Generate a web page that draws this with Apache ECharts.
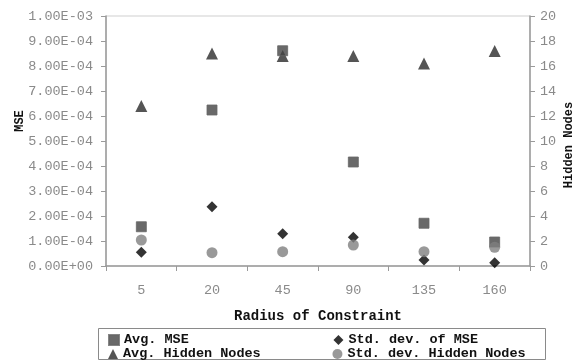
<!DOCTYPE html>
<html>
<head>
<meta charset="utf-8">
<script src="https://cdn.jsdelivr.net/npm/echarts@6/dist/echarts.min.js"></script>
<style>
  html, body { margin: 0; padding: 0; background: #fff; }
  #chart { width: 579px; height: 360px; }
</style>
</head>
<body>
<div id="chart"></div>
<script>
// data
const radius = ['5', '20', '45', '90', '135', '160'];
const avgMse = [1.57e-4, 6.24e-4, 8.61e-4, 4.16e-4, 1.71e-4, 0.96e-4];
const stdMse = [0.55e-4, 2.37e-4, 1.29e-4, 1.15e-4, 0.24e-4, 0.13e-4];
const avgHidden = [12.8, 17.0, 16.8, 16.8, 16.2, 17.2];
const stdHidden = [2.08, 1.07, 1.15, 1.68, 1.15, 1.5];
const mseTickLabels = ['0.00E+00', '1.00E-04', '2.00E-04', '3.00E-04', '4.00E-04',
  '5.00E-04', '6.00E-04', '7.00E-04', '8.00E-04', '9.00E-04', '1.00E-03'];
const legendRow1 = ['Avg. MSE', 'Std. dev. of MSE'];
const legendRow2 = ['Avg. Hidden Nodes', 'Std. dev. Hidden Nodes'];

const mono = '"Liberation Mono", "DejaVu Sans Mono", monospace';
const axisGray = '#9a9a9a';
const labelGray = '#8a8a8a';

const myChart = echarts.init(document.getElementById('chart'));

// both legend rows share the same look; names padded so the columns line up
function legendRow(names, top) {
  return {
    data: names,
    orient: 'horizontal',
    left: 108, top: top,
    itemWidth: 10, itemHeight: 10, itemGap: 15, padding: 0,
    formatter: function (name) { return name.padEnd(24, ' '); },
    textStyle: { fontFamily: mono, fontSize: 13.5, fontWeight: 'bold', color: '#111' }
  };
}

myChart.setOption({
  animation: false,
  grid: {
    left: 106, right: 49, top: 16, bottom: 94,
    outerBoundsMode: 'none',
    show: true, borderColor: '#cfcfcf', borderWidth: 1
  },
  legend: [legendRow(legendRow1, 333), legendRow(legendRow2, 347)],
  graphic: [{
    type: 'rect',
    shape: { x: 98.5, y: 328.5, width: 447, height: 31 },
    style: { fill: 'none', stroke: '#8a8a8a', lineWidth: 1 },
    silent: true
  }],
  xAxis: {
    type: 'category',
    data: radius,
    boundaryGap: true,
    name: 'Radius of Constraint',
    nameLocation: 'middle',
    nameGap: 43,
    nameTextStyle: { fontFamily: mono, fontSize: 14, fontWeight: 'bold', color: '#111' },
    axisLine: { lineStyle: { color: axisGray, width: 1.5 } },
    axisTick: { show: true, length: 5, lineStyle: { color: axisGray } },
    axisLabel: { fontFamily: mono, fontSize: 13.5, color: labelGray, margin: 17 },
    splitLine: { show: false }
  },
  yAxis: [
    {
      type: 'value',
      min: 0, max: 0.001, interval: 0.0001,
      name: 'MSE',
      nameLocation: 'middle',
      nameRotate: 90,
      nameGap: 80,
      nameMoveOverlap: false,
      nameTextStyle: { fontFamily: mono, fontSize: 12, fontWeight: 'bold', color: '#111', padding: [0, 0, 0, 40] },
      axisLine: { show: true, lineStyle: { color: axisGray, width: 1.5 } },
      axisTick: { show: true, length: 5, lineStyle: { color: axisGray } },
      axisLabel: {
        fontFamily: mono, fontSize: 13.5, color: labelGray, margin: 13,
        formatter: function (v) { return mseTickLabels[Math.round(v / 0.0001)]; }
      },
      splitLine: { show: false }
    },
    {
      type: 'value',
      min: 0, max: 20, interval: 2,
      name: 'Hidden Nodes',
      nameLocation: 'middle',
      nameRotate: 90,
      nameGap: 33,
      nameMoveOverlap: false,
      nameTextStyle: { fontFamily: mono, fontSize: 12, fontWeight: 'bold', color: '#111', padding: [0, 0, 0, -8] },
      axisLine: { show: true, lineStyle: { color: axisGray, width: 1.5 } },
      axisTick: { show: true, length: 5, lineStyle: { color: axisGray } },
      axisLabel: { fontFamily: mono, fontSize: 13.5, color: labelGray, margin: 10 },
      splitLine: { show: false }
    }
  ],
  series: [
    {
      name: 'Avg. Hidden Nodes', type: 'scatter', yAxisIndex: 1,
      symbol: 'triangle', symbolSize: 12,
      itemStyle: { color: '#2b2b2b' },
      data: avgHidden
    },
    {
      name: 'Avg. MSE', type: 'scatter', yAxisIndex: 0,
      symbol: 'rect', symbolSize: 10,
      itemStyle: { color: '#444', borderColor: '#666', borderWidth: 1 },
      data: avgMse
    },
    {
      name: 'Std. dev. of MSE', type: 'scatter', yAxisIndex: 0,
      symbol: 'diamond', symbolSize: 11,
      itemStyle: { color: '#000' },
      data: stdMse
    },
    {
      name: 'Std. dev. Hidden Nodes', type: 'scatter', yAxisIndex: 1,
      symbol: 'circle', symbolSize: 11,
      itemStyle: { color: '#808080' },
      data: stdHidden
    }
  ]
});
</script>
</body>
</html>
